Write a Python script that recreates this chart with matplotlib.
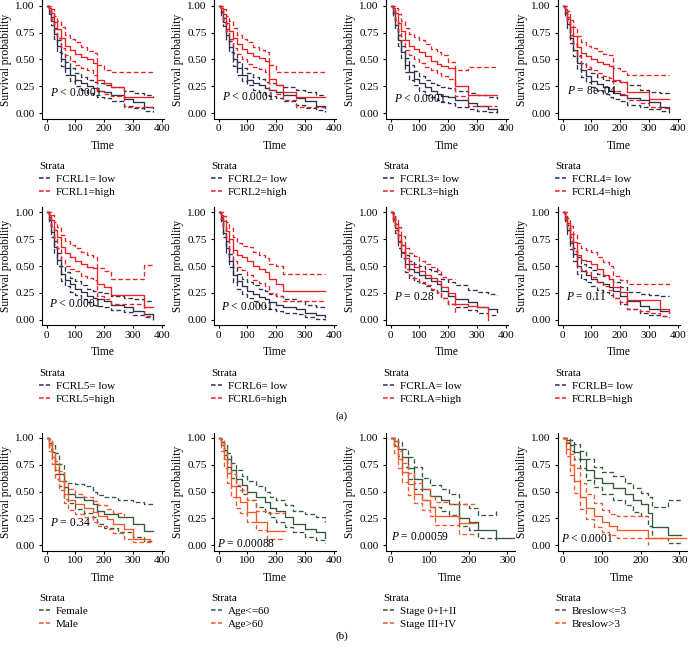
import numpy as np
import matplotlib.pyplot as plt
from matplotlib.lines import Line2D

plt.rcParams['font.family'] = ['Liberation Serif', 'DejaVu Serif']
plt.rcParams['mathtext.fontset'] = 'custom'
plt.rcParams['mathtext.rm'] = 'Liberation Serif'
plt.rcParams['mathtext.it'] = 'Liberation Serif:italic'

nan = np.nan

# common time grid for the FCRL panels (a)
t_fcrl = [0, 8, 15, 25, 35, 50, 65, 80, 100, 120, 140, 160, 175, 200, 225, 270, 300, 340, 370]

fcrl1_low    = [1, .95, .86, .74, .63, .50, .42, .36, .31, .28, .25, .23, .21, .20, .17, .13, .10, .06, .05]
fcrl1_low_lo = [1, .92, .82, .69, .57, .44, .36, .30, .25, .22, .19, .17, .15, .14, .11, .07, .05, .02, .01]
fcrl1_low_hi = [1, .98, .90, .79, .68, .56, .48, .42, .37, .34, .31, .29, .28, .26, .24, .21, .19, .17, .15]
fcrl1_high    = [1, .98, .93, .85, .78, .70, .63, .59, .55, .52, .50, .47, .31, .28, .24, .15, .15, .15, .15]
fcrl1_high_lo = [1, .95, .88, .78, .70, .61, .54, .49, .45, .42, .40, .36, .21, .18, .16, .06, .06, .06, .06]
fcrl1_high_hi = [1, 1.0, .97, .91, .86, .80, .73, .69, .66, .62, .58, .56, .45, .40, .38, .38, .38, .38, .38]

fcrl2_low    = [1, .94, .85, .73, .62, .50, .42, .36, .31, .28, .26, .23, .22, .20, .17, .14, .11, .07, .05]
fcrl2_low_lo = [1, .91, .81, .68, .57, .44, .36, .30, .26, .22, .20, .17, .16, .14, .11, .08, .05, .03, .01]
fcrl2_low_hi = [1, .97, .89, .78, .67, .56, .48, .42, .37, .34, .32, .29, .28, .26, .24, .22, .20, .17, .16]
fcrl2_high    = [1, .98, .92, .84, .77, .70, .64, .60, .56, .53, .51, .49, .32, .26, .20, .15, .15, .15, .15]
fcrl2_high_lo = [1, .95, .87, .77, .69, .61, .55, .50, .46, .43, .41, .38, .22, .18, .12, .06, .06, .06, .06]
fcrl2_high_hi = [1, 1.0, .97, .91, .86, .79, .73, .69, .66, .62, .59, .57, .45, .38, .38, .38, .38, .38, .38]

fcrl3_low    = [1, .93, .82, .68, .57, .45, .38, .32, .28, .24, .21, .18, .16, .15, .12, .09, .07, .04, .02]
fcrl3_low_lo = [1, .90, .78, .63, .51, .38, .31, .26, .21, .17, .15, .12, .10, .09, .06, .04, .02, .01, .00]
fcrl3_low_hi = [1, .96, .87, .73, .63, .51, .45, .39, .35, .31, .28, .26, .24, .23, .21, .19, .17, .15, .13]
fcrl3_high    = [1, .98, .93, .84, .77, .68, .63, .60, .57, .53, .49, .46, .44, .42, .25, .17, .17, .17, .17]
fcrl3_high_lo = [1, .95, .87, .76, .68, .59, .54, .50, .47, .43, .40, .37, .35, .32, .16, .07, .07, .07, .07]
fcrl3_high_hi = [1, 1.0, .98, .92, .86, .79, .74, .71, .68, .64, .60, .57, .54, .48, .40, .43, .43, .43, .43]

fcrl4_low    = [1, .93, .83, .70, .59, .47, .40, .35, .30, .27, .24, .21, .19, .17, .14, .12, .10, .06, .03]
fcrl4_low_lo = [1, .90, .79, .65, .53, .41, .34, .29, .24, .21, .18, .15, .13, .11, .08, .06, .04, .02, .00]
fcrl4_low_hi = [1, .96, .88, .76, .65, .54, .47, .41, .37, .34, .31, .30, .30, .29, .26, .22, .20, .19, .18]
fcrl4_high    = [1, .97, .90, .80, .72, .62, .56, .53, .50, .48, .46, .44, .31, .29, .20, .20, .13, .13, .13]
fcrl4_high_lo = [1, .94, .85, .73, .64, .53, .46, .43, .40, .37, .35, .33, .21, .18, .12, .09, .06, .05, .04]
fcrl4_high_hi = [1, 1.0, .95, .87, .80, .72, .66, .63, .61, .58, .55, .54, .42, .39, .36, .36, .36, .36, .36]

fcrl5_low    = [1, .93, .82, .68, .56, .43, .37, .33, .29, .26, .22, .20, .19, .17, .14, .12, .08, .05, .03]
fcrl5_low_lo = [1, .90, .77, .62, .50, .36, .31, .26, .23, .19, .16, .14, .13, .12, .09, .07, .04, .02, .00]
fcrl5_low_hi = [1, .96, .87, .73, .62, .50, .44, .39, .36, .32, .29, .27, .26, .25, .22, .20, .19, .17, .16]
fcrl5_high    = [1, .98, .93, .84, .77, .68, .62, .58, .55, .52, .49, .48, .33, .30, .23, .23, .23, .12, .12]
fcrl5_high_lo = [1, .95, .87, .76, .67, .56, .50, .47, .45, .41, .39, .37, .22, .19, .15, .15, .15, .03, .03]
fcrl5_high_hi = [1, 1.0, .98, .91, .86, .79, .73, .70, .67, .63, .60, .58, .48, .45, .38, .38, .38, .51, .51]

fcrl6_low    = [1, .93, .81, .67, .55, .42, .36, .31, .27, .24, .21, .19, .16, .14, .12, .10, .06, .04, .02]
fcrl6_low_lo = [1, .90, .77, .61, .49, .35, .29, .24, .20, .17, .14, .12, .10, .08, .06, .05, .02, .01, .00]
fcrl6_low_hi = [1, .96, .86, .73, .61, .49, .43, .38, .35, .32, .29, .27, .24, .22, .19, .17, .14, .12, .10]
fcrl6_high    = [1, .98, .92, .83, .75, .65, .60, .58, .55, .50, .47, .44, .38, .33, .27, .27, .27, .27, .27]
fcrl6_high_lo = [1, .95, .86, .75, .66, .55, .49, .46, .42, .37, .34, .31, .25, .22, .17, .17, .17, .17, .17]
fcrl6_high_hi = [1, 1.0, .97, .91, .85, .77, .71, .69, .68, .63, .60, .57, .52, .50, .43, .43, .43, .43, .43]

fcrla_low    = [1, .94, .85, .73, .63, .52, .47, .44, .42, .39, .36, .33, .27, .22, .19, .16, .12, .10, .07]
fcrla_low_lo = [1, .91, .81, .67, .57, .44, .39, .36, .34, .31, .28, .25, .20, .15, .12, .09, .06, .04, .03]
fcrla_low_hi = [1, .97, .89, .79, .70, .60, .55, .52, .50, .47, .45, .43, .38, .35, .32, .28, .26, .24, .23]
fcrla_high    = [1, .96, .89, .79, .70, .57, .52, .49, .45, .42, .39, .36, .30, .25, .15, .13, .12, 0.0, nan]
fcrla_high_lo = [1, .93, .84, .72, .62, .47, .42, .39, .35, .32, .29, .26, .20, .15, .05, nan, nan, nan, nan]
fcrla_high_hi = [1, .99, .94, .86, .78, .67, .62, .59, .55, .52, .49, .46, .40, .38, .38, nan, nan, nan, nan]

fcrlb_low    = [1, .93, .84, .71, .61, .50, .45, .42, .38, .35, .33, .30, .27, .22, .17, .13, .10, .08, .07]
fcrlb_low_lo = [1, .90, .80, .66, .55, .43, .38, .35, .31, .28, .26, .23, .20, .15, .10, .06, .04, .03, .02]
fcrlb_low_hi = [1, .96, .88, .77, .67, .58, .52, .49, .46, .43, .41, .38, .35, .30, .26, .24, .23, .22, .22]
fcrlb_high    = [1, .97, .90, .80, .72, .60, .56, .55, .52, .47, .42, .38, .30, .26, .18, .18, .18, .10, .06]
fcrlb_high_lo = [1, .94, .85, .73, .64, .50, .46, .44, .40, .35, .31, .28, .20, .16, .10, .08, .06, .03, .02]
fcrlb_high_hi = [1, 1.0, .95, .87, .80, .71, .67, .65, .63, .58, .54, .50, .41, .37, .33, .33, .33, .33, .32]

# clinical panels (b)
t_female = [0, 10, 20, 30, 45, 60, 75, 100, 130, 160, 175, 200, 250, 300, 340, 370]
female    = [1, .95, .87, .76, .66, .54, .48, .45, .42, .38, .32, .29, .26, .20, .13, .13]
female_lo = [1, .90, .80, .66, .55, .43, .39, .34, .30, .26, .20, .16, .12, .08, .04, .04]
female_hi = [1, .99, .94, .86, .76, .60, .58, .57, .55, .50, .47, .45, .42, .40, .38, .38]
t_male = [0, 10, 20, 30, 45, 60, 75, 100, 130, 160, 180, 210, 230, 270, 300, 360]
male    = [1, .93, .82, .70, .60, .48, .42, .38, .35, .31, .27, .24, .20, .15, .06, .04]
male_lo = [1, .88, .76, .62, .51, .39, .33, .29, .26, .22, .18, .15, .11, .06, .03, .00]
male_hi = [1, .97, .88, .78, .69, .58, .52, .48, .45, .41, .37, .34, .30, .27, nan, nan]

t_age_young = [0, 10, 20, 30, 45, 60, 80, 100, 130, 160, 180, 200, 230, 260, 300, 340, 370]
age_young    = [1, .96, .89, .80, .70, .62, .56, .50, .45, .40, .35, .32, .26, .20, .15, .12, .07]
age_young_lo = [1, .93, .84, .73, .63, .55, .48, .42, .36, .31, .26, .22, .17, .12, .08, .05, .02]
age_young_hi = [1, .99, .94, .86, .77, .70, .64, .60, .55, .50, .45, .42, .37, .32, .29, .26, .22]
t_age_old = [0, 10, 20, 30, 45, 60, 75, 100, 130, 170, 230]
age_old    = [1, .93, .80, .67, .55, .45, .40, .31, .22, .13, .13]
age_old_lo = [1, .88, .72, .58, .45, .35, .30, .22, .14, .06, .06]
age_old_hi = [1, .98, .88, .77, .66, .56, .51, .42, .32, .30, .30]

t_stage_early = [0, 10, 20, 30, 45, 60, 80, 100, 130, 150, 175, 200, 225, 270, 320]
stage_early    = [1, .97, .90, .82, .72, .62, .52, .46, .42, .38, .25, .22, .14, .07, .07]
stage_early_lo = [1, .93, .83, .73, .62, .52, .42, .36, .32, .28, .18, .14, .07, .05, nan]
stage_early_hi = [1, 1.0, .96, .90, .82, .73, .63, .56, .52, .48, .38, .35, .28, .33, nan]
t_stage_late = [0, 10, 20, 30, 45, 60, 80, 100, 115, 150, 175, 220]
stage_late    = [1, .92, .80, .68, .57, .48, .42, .36, .27, .27, .21, .21]
stage_late_lo = [1, .86, .72, .59, .47, .39, .33, .27, .19, .19, .10, .10]
stage_late_hi = [1, .97, .88, .77, .67, .58, .52, .46, .40, .38, .38, .38]

t_breslow_thin = [0, 10, 20, 30, 45, 60, 80, 100, 130, 160, 180, 200, 220, 230, 270, 305]
breslow_thin    = [1, .98, .93, .87, .80, .70, .63, .58, .53, .48, .42, .38, .30, .17, .09, .09]
breslow_thin_lo = [1, .95, .88, .80, .72, .61, .54, .48, .42, .37, .31, .27, .18, .07, .02, .02]
breslow_thin_hi = [1, 1.0, .98, .94, .88, .80, .73, .68, .64, .58, .53, .49, .45, .36, .42, .42]
t_breslow_thick = [0, 10, 20, 30, 45, 60, 80, 100, 120, 140, 220, 320]
breslow_thick    = [1, .90, .75, .60, .45, .35, .27, .22, .18, .14, .07, .07]
breslow_thick_lo = [1, .83, .65, .49, .34, .24, .17, .12, .09, .07, .00, nan]
breslow_thick_hi = [1, .96, .85, .72, .58, .48, .39, .33, .29, .27, .27, nan]

strata_labels = [["FCRL1= low", "FCRL1=high"], ["FCRL2= low", "FCRL2=high"],
                 ["FCRL3= low", "FCRL3=high"], ["FCRL4= low", "FCRL4=high"],
                 ["FCRL5= low", "FCRL5=high"], ["FCRL6= low", "FCRL6=high"],
                 ["FCRLA= low", "FCRLA=high"], ["FCRLB= low", "FCRLB=high"],
                 ["Female", "Male"], ["Age<=60", "Age>60"],
                 ["Stage 0+I+II", "Stage III+IV"], ["Breslow<=3", "Breslow>3"]]
pval_text = ["< 0.0001", "< 0.0001", "< 0.0001", "= 8e\u221204",
             "< 0.0001", "< 0.0001", "= 0.28", "= 0.11",
             "= 0.34", "= 0.00088", "= 0.00059", "< 0.0001"]
pval_x = [11, 12, 13, 17, 8, 8, 13, 13, 11, -6, 0, -3]
pval_y = [0.19, 0.155, 0.13, 0.21, 0.145, 0.12, 0.215, 0.215, 0.21, 0.015, 0.08, 0.06]

fcrl_curves = [
    (fcrl1_low, fcrl1_low_lo, fcrl1_low_hi, fcrl1_high, fcrl1_high_lo, fcrl1_high_hi),
    (fcrl2_low, fcrl2_low_lo, fcrl2_low_hi, fcrl2_high, fcrl2_high_lo, fcrl2_high_hi),
    (fcrl3_low, fcrl3_low_lo, fcrl3_low_hi, fcrl3_high, fcrl3_high_lo, fcrl3_high_hi),
    (fcrl4_low, fcrl4_low_lo, fcrl4_low_hi, fcrl4_high, fcrl4_high_lo, fcrl4_high_hi),
    (fcrl5_low, fcrl5_low_lo, fcrl5_low_hi, fcrl5_high, fcrl5_high_lo, fcrl5_high_hi),
    (fcrl6_low, fcrl6_low_lo, fcrl6_low_hi, fcrl6_high, fcrl6_high_lo, fcrl6_high_hi),
    (fcrla_low, fcrla_low_lo, fcrla_low_hi, fcrla_high, fcrla_high_lo, fcrla_high_hi),
    (fcrlb_low, fcrlb_low_lo, fcrlb_low_hi, fcrlb_high, fcrlb_high_lo, fcrlb_high_hi),
]
clin_curves = [
    ((t_female, female, female_lo, female_hi), (t_male, male, male_lo, male_hi)),
    ((t_age_young, age_young, age_young_lo, age_young_hi), (t_age_old, age_old, age_old_lo, age_old_hi)),
    ((t_stage_early, stage_early, stage_early_lo, stage_early_hi),
     (t_stage_late, stage_late, stage_late_lo, stage_late_hi)),
    ((t_breslow_thin, breslow_thin, breslow_thin_lo, breslow_thin_hi),
     (t_breslow_thick, breslow_thick, breslow_thick_lo, breslow_thick_hi)),
]

navy, red = "#2D3250", "#EE1F23"
green, orange = "#35593D", "#F2572A"

W, H = 688, 649
fig = plt.figure(figsize=(W / 100, H / 100), dpi=100)

col_left = [41.5, 213.5, 385.5, 557.5]
row_top = [0.5, 207, 432.5]
ax_h = 118


def km(ax, t, s, color, dashed=False):
    t = np.asarray(t, float)
    s = np.asarray(s, float)
    n = np.nonzero(~np.isnan(s))[0][-1] + 1
    ls = (0, (3.5, 2)) if dashed else '-'
    ax.step(t[:n], s[:n], where='post', color=color, lw=0.95, ls=ls)


def style(ax, xlim, xticks, labels, colors, i, w):
    ax.set_xlim(*xlim)
    ax.set_ylim(-0.05, 1.05)
    ax.set_xticks(xticks)
    ax.set_yticks([0, 0.25, 0.5, 0.75, 1.0])
    ax.set_yticklabels(["0.00", "0.25", "0.50", "0.75", "1.00"])
    for sp in ["top", "right"]:
        ax.spines[sp].set_visible(False)
    for sp in ["left", "bottom"]:
        ax.spines[sp].set_linewidth(0.8)
    ax.tick_params(labelsize=8, length=2.5, width=0.8, colors="black")
    ax.tick_params(axis='x', pad=1.5)
    ax.tick_params(axis='y', pad=2.5)
    ax.set_ylabel("Survival probability", fontsize=8.3)
    ax.yaxis.set_label_coords(-29.5 / w, 0.5)
    ax.set_xlabel("Time", fontsize=8.3)
    ax.xaxis.set_label_coords(0.5, -0.18)
    ax.text(pval_x[i], pval_y[i], "$P$ " + pval_text[i], fontsize=8.3, va='center', ha='left')
    handles = [Line2D([], [], color=c, lw=1.1, ls=(0, (3, 1.5))) for c in colors]
    ax.legend(handles, labels, title="Strata", loc='upper left', bbox_to_anchor=(-2.5 / w, -0.37),
              frameon=False, fontsize=8, title_fontsize=8, handlelength=1.0,
              handletextpad=0.5, labelspacing=0.3, borderpad=0, borderaxespad=0,
              alignment='left')


for i in range(12):
    r, c = divmod(i, 4)
    if i >= 10:
        xlim, w, xticks = (-13, 318), 129, [0, 100, 200, 300]
    else:
        xlim, w, xticks = (-17.5, 406.5), 122, [0, 100, 200, 300, 400]
    ax = fig.add_axes([col_left[c] / W, 1 - (row_top[r] + ax_h) / H, w / W, ax_h / H])
    if i < 8:
        lo_s, lo_l, lo_h, hi_s, hi_l, hi_h = fcrl_curves[i]
        for s, col, d in [(lo_l, navy, True), (lo_h, navy, True), (lo_s, navy, False),
                          (hi_l, red, True), (hi_h, red, True), (hi_s, red, False)]:
            km(ax, t_fcrl, s, col, d)
        colors = [navy, red]
    else:
        for (t, s, l, h), col in zip(clin_curves[i - 8], [green, orange]):
            km(ax, t, l, col, True)
            km(ax, t, h, col, True)
            km(ax, t, s, col, False)
        colors = [green, orange]
    style(ax, xlim, xticks, strata_labels[i], colors, i, w)

fig.text(342 / W, 1 - 416 / H, "(a)", fontsize=8, ha='center', va='center')
fig.text(342 / W, 1 - 636 / H, "(b)", fontsize=8, ha='center', va='center')

fig.savefig("out.png", dpi=100)
